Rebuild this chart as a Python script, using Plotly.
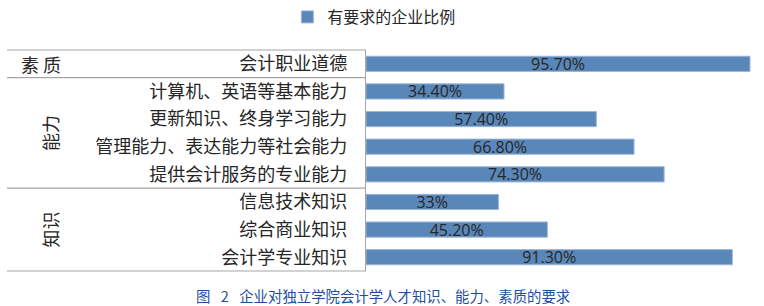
import plotly.graph_objects as go

categories = ["会计职业道德", "计算机、英语等基本能力", "更新知识、终身学习能力",
              "管理能力、表达能力等社会能力", "提供会计服务的专业能力",
              "信息技术知识", "综合商业知识", "会计学专业知识"]
values = [95.7, 34.4, 57.4, 66.8, 74.3, 33, 45.2, 91.3]
value_labels = ["95.70%", "34.40%", "57.40%", "66.80%", "74.30%", "33%", "45.20%", "91.30%"]
groups = ["素 质", "能力", "知识"]
group_sizes = [1, 4, 3]
group_angles = [0, -90, -90]
series_name = "有要求的企业比例"
caption = "图\u2002 2\u2002 企业对独立学院会计学人才知识、能力、素质的要求"

W, H = 764, 306
ML, MR, MT, MB = 366, 0, 50, 35
CJK = "Noto Sans CJK SC"
LINE = "#A6A6A6"

fig = go.Figure()
fig.add_trace(go.Bar(
    y=categories, x=values, orientation="h", name=series_name,
    marker=dict(color="#5A87B9", line=dict(color="#9DB6D6", width=1)),
    width=0.55,
    text=value_labels, textposition="inside", insidetextanchor="middle",
    constraintext="none", cliponaxis=False,
    textfont=dict(family="Open Sans", size=16, color="#262626"),
    showlegend=True,
))

n = len(categories)
PW = W - ML - MR
x_left = (7 - ML) / PW
shapes = []
annotations = []
start = 0
bounds = [0]
for g, size, ang in zip(groups, group_sizes, group_angles):
    end = start + size
    bounds.append(end)
    ymid = 1 - (start + end) / 2 / n
    annotations.append(dict(
        text=g, xref="paper", yref="paper", x=(50 - ML) / PW if ang else (41 - ML) / PW,
        y=ymid, showarrow=False, textangle=ang,
        font=dict(family=CJK, size=18, color="#262626"),
        xanchor="center", yanchor="middle"))
    start = end
for b in bounds:
    yb = 1 - b / n
    shapes.append(dict(type="line", xref="paper", yref="paper", x0=x_left, x1=0,
                       y0=yb, y1=yb, line=dict(color=LINE, width=1.2)))

annotations.append(dict(
    text=caption, xref="paper", yref="paper", x=(383 - ML) / PW,
    y=-(295 - (H - MB)) / (H - MT - MB), showarrow=False,
    font=dict(family=CJK, size=14.4, color="#1C4F9E"),
    xanchor="center", yanchor="middle"))

fig.update_layout(
    width=W, height=H,
    margin=dict(l=ML, r=MR, t=MT, b=MB, pad=0),
    paper_bgcolor="white", plot_bgcolor="white",
    shapes=shapes, annotations=annotations,
    bargap=0.45,
    legend=dict(orientation="h", x=0.49, xref="container", xanchor="center",
                y=1, yref="container", yanchor="top",
                font=dict(family=CJK, size=16, color="#262626"),
                itemwidth=30, bgcolor="rgba(0,0,0,0)"),
    xaxis=dict(range=[0, PW / 4.0125], visible=False, showgrid=False, zeroline=False),
    yaxis=dict(autorange="reversed", showline=True, linecolor=LINE, linewidth=1.2,
               ticks="", showgrid=False, ticklabelstandoff=14,
               tickfont=dict(family=CJK, size=18, color="#262626")),
)

fig.write_html("out.html")
